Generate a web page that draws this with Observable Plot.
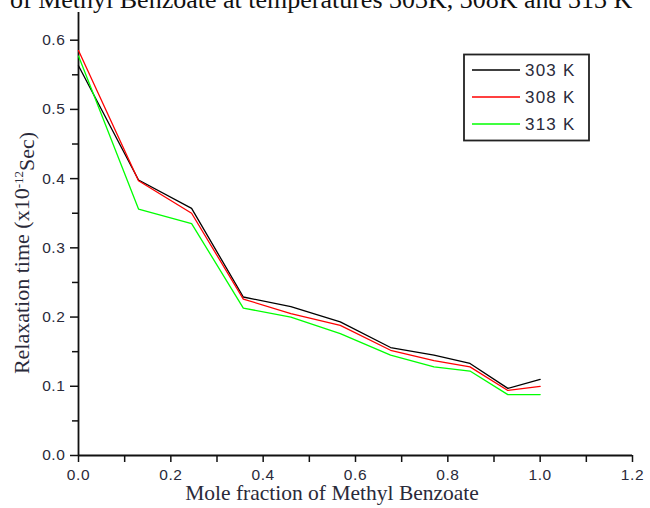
<!DOCTYPE html>
<html><head><meta charset="utf-8">
<script src="https://cdn.jsdelivr.net/npm/d3@7"></script>
<script src="https://cdn.jsdelivr.net/npm/@observablehq/plot@0.6"></script>
<style>
body{margin:0;background:#fff}
#wrap{position:relative;width:650px;height:508px;overflow:hidden}
</style></head>
<body><div id="wrap"></div>
<script>
// Mole fraction of methyl benzoate
const moleFraction = [0, 0.13, 0.245, 0.357, 0.46, 0.567, 0.676, 0.77, 0.848, 0.93, 1.0];
// Relaxation time (x10^-12 s) per temperature
const t303 = [0.563, 0.398, 0.357, 0.229, 0.215, 0.193, 0.156, 0.145, 0.133, 0.097, 0.110];
const t308 = [0.585, 0.397, 0.350, 0.226, 0.205, 0.188, 0.152, 0.137, 0.128, 0.094, 0.100];
const t313 = [0.577, 0.356, 0.335, 0.213, 0.200, 0.176, 0.145, 0.128, 0.122, 0.088, 0.088];
const seriesNames = ["303 K", "308 K", "313 K"];
const seriesColors = ["#000000", "#ff0000", "#00ff00"];
const xMajor = [0, 0.2, 0.4, 0.6, 0.8, 1.0, 1.2];
const xMinor = [0.1, 0.3, 0.5, 0.7, 0.9, 1.1];
const yMajor = [0, 0.1, 0.2, 0.3, 0.4, 0.5, 0.6];
const yMinor = [0.05, 0.15, 0.25, 0.35, 0.45, 0.55];
const titleText = "of Methyl Benzoate at temperatures 303K, 308K and 313 K";
const xLabel = "Mole fraction of Methyl Benzoate";

const seriesValues = [t303, t308, t313];
const data = seriesValues.flatMap((vals, i) => vals.map((v, j) => ({x: moleFraction[j], y: v, s: seriesNames[i]})));

const fmt = d3.format(".1f");
const chart = Plot.plot({
  width: 650, height: 508,
  marginLeft: 78, marginRight: 18, marginTop: 12, marginBottom: 53,
  x: {domain: [0, 1.2]},
  y: {domain: [0, 0.64]},
  color: {domain: seriesNames, range: seriesColors},
  style: {fontFamily: "'Liberation Sans', Arial, sans-serif", fontSize: "15.5px", color: "#2a2a3a", background: "white", letterSpacing: "0.6px"},
  marks: [
    Plot.axisX({ticks: xMajor, tickFormat: fmt, tickSize: 7, tickPadding: 6, label: null, stroke: "#111", strokeWidth: 1.5}),
    Plot.axisX({ticks: xMinor, tickFormat: () => "", tickSize: 7, label: null, stroke: "#111", strokeWidth: 1.5}),
    Plot.axisY({ticks: yMajor, tickFormat: fmt, tickSize: 8, tickPadding: 5, label: null, stroke: "#111", strokeWidth: 1.5}),
    Plot.axisY({ticks: yMinor, tickFormat: () => "", tickSize: 6, label: null, stroke: "#111", strokeWidth: 1.5}),
    Plot.ruleX([0], {stroke: "#111", strokeWidth: 1.8}),
    Plot.ruleY([0], {stroke: "#111", strokeWidth: 1.8}),
    Plot.line(data, {x: "x", y: "y", z: "s", stroke: "s", strokeWidth: 1.3})
  ]
});
document.getElementById("wrap").appendChild(chart);

const svg = d3.select(chart);
const serif = "'Liberation Serif', 'Times New Roman', serif";
// partial title (cut off at top, as in the reference)
svg.append("text").attr("x", 10).attr("y", 8).attr("text-anchor", "start")
  .style("font-family", serif).style("font-size", "26px").style("letter-spacing", "0px").attr("fill", "#111")
  .text(titleText);
// x label
svg.append("text").attr("x", 332).attr("y", 500).attr("text-anchor", "middle")
  .style("font-family", serif).style("font-size", "21.5px").style("letter-spacing", "0px").attr("fill", "#2a2a3a")
  .text(xLabel);
// y label
const yl = svg.append("text").attr("transform", "translate(29,253) rotate(-90)").attr("text-anchor", "middle")
  .style("font-family", serif).style("font-size", "22px").style("letter-spacing", "0px").attr("fill", "#2a2a3a");
yl.append("tspan").text("Relaxation time (x10");
yl.append("tspan").attr("dy", "-0.5em").style("font-size", "13px").text("-12");
yl.append("tspan").attr("dy", "0.5em").text("Sec)");

// legend
const lg = svg.append("g");
lg.append("rect").attr("x", 464).attr("y", 54.5).attr("width", 125).attr("height", 86)
  .attr("fill", "white").attr("stroke", "#222").attr("stroke-width", 1.8);
seriesNames.forEach((n, i) => {
  const yy = 70 + i * 27;
  lg.append("line").attr("x1", 472).attr("x2", 520).attr("y1", yy).attr("y2", yy)
    .attr("stroke", seriesColors[i]).attr("stroke-width", 1.3);
  lg.append("text").attr("x", 525).attr("y", yy).attr("dy", "0.36em").attr("text-anchor", "start")
    .style("font-family", "'Liberation Sans', Arial, sans-serif").style("font-size", "17px").attr("fill", "#2a2a3a")
    .style("letter-spacing", "1.2px").text(n);
});
</script></body></html>
